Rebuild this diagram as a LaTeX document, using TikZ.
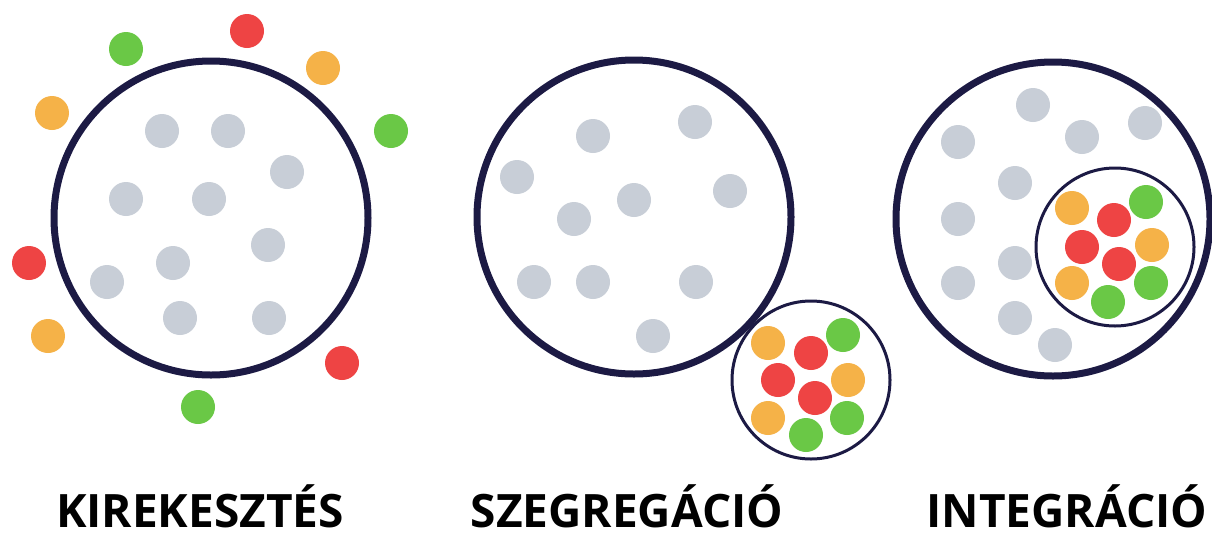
\documentclass[tikz,border=0pt]{standalone}
\usepackage{fontspec}
\setmainfont{Open Sans}
\usepackage{tikz}

\definecolor{ringnavy}{RGB}{28,26,68}
\definecolor{dotgray}{RGB}{200,206,215}
\definecolor{dotgreen}{RGB}{106,200,70}
\definecolor{dotred}{RGB}{238,68,68}
\definecolor{dotorange}{RGB}{245,178,72}

\begin{document}
\begin{tikzpicture}[x=1pt,y=-1pt]
		\tikzstyle{dot}=[circle,inner sep=0pt,minimum size=34pt]
		\tikzstyle{gray dot}=[dot,fill=dotgray]
		\tikzstyle{green dot}=[dot,fill=dotgreen]
		\tikzstyle{red dot}=[dot,fill=dotred]
		\tikzstyle{orange dot}=[dot,fill=dotorange]
		\tikzstyle{big ring}=[circle,draw=ringnavy,line width=7pt,inner sep=0pt,minimum size=314pt]
		\tikzstyle{small ring}=[circle,draw=ringnavy,line width=3pt,fill=white,inner sep=0pt,minimum size=158pt]
		\tikzstyle{caption}=[anchor=base,inner sep=0pt,text depth=0pt,font=\fontsize{46}{46}\selectfont\bfseries]

		\useasboundingbox (0,0) rectangle (1212,536);

		% kirekesztes
		\node[big ring] (excl) at (211,218) {};
		\foreach \x/\y [count=\i] in {162/131,228/131,287/172,126/199,209/199,268/245,173/263,107/282,180/318,269/318}
			\node[gray dot] (excl-g\i) at (\x,\y) {};
		\foreach \x/\y/\c [count=\i] in {126/49/green,247/31/red,323/68/orange,391/131/green,52/113/orange,29/263/red,48/336/orange,342/363/red,198/407/green}
			\node[\c\space dot] (excl-o\i) at (\x,\y) {};

		% szegregacio
		\node[big ring] (segr) at (634,217) {};
		\foreach \x/\y [count=\i] in {593/136,695/122,517/177,634/200,730/191,574/219,534/282,593/282,696/282,653/336}
			\node[gray dot] (segr-g\i) at (\x,\y) {};
		\node[small ring] (segr-in) at (811,380) {};
		\foreach \x/\y/\c [count=\i] in {768/343/orange,811/353/red,843/335/green,778/380/red,848/380/orange,815/398/red,768/418/orange,806/435/green,847/418/green}
			\node[\c\space dot] (segr-o\i) at (\x,\y) {};

		% integracio
		\node[big ring] (integ) at (1053,219) {};
		\foreach \x/\y [count=\i] in {1033/105,958/142,1082/137,1145/123,1015/183,958/219,1015/263,958/283,1015/318,1055/345}
			\node[gray dot] (integ-g\i) at (\x,\y) {};
		\node[small ring] (integ-in) at (1115,247) {};
		\foreach \x/\y/\c [count=\i] in {1072/208/orange,1114/220/red,1146/202/green,1082/247/red,1152/245/orange,1119/264/red,1072/283/orange,1108/302/green,1151/283/green}
			\node[\c\space dot] (integ-o\i) at (\x,\y) {};

		% captions
		\node[caption] (excl-label) at (200,527) {KIREKESZTÉS};
		\node[caption] (segr-label) at (627,527) {SZEGREGÁCIÓ};
		\node[caption] (integ-label) at (1067,527) {INTEGRÁCIÓ};

	\end{tikzpicture}
\end{document}
